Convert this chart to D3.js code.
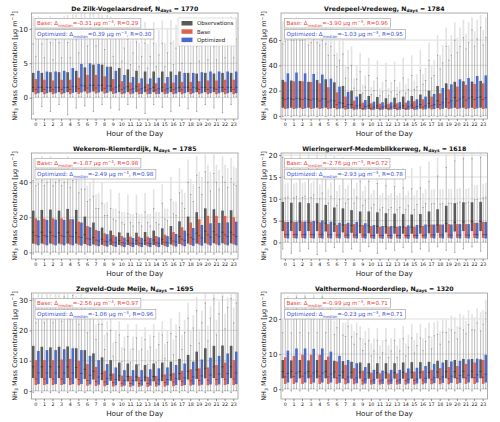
<!DOCTYPE html>
<html>
<head>
<meta charset="utf-8">
<script src="https://cdn.jsdelivr.net/npm/d3@7"></script>
<style>
  body { margin: 0; background: #fff; }
  svg { display: block; font-family: "DejaVu Sans", sans-serif; }
</style>
</head>
<body>
<svg id="chart" width="500" height="422"></svg>
<script>
// categories
var hours = [0, 1, 2, 3, 4, 5, 6, 7, 8, 9, 10, 11, 12, 13, 14, 15, 16, 17, 18, 19, 20, 21, 22, 23];
var seriesNames = ['Observations', 'Base', 'Optimized'];
var stations = ['De Zilk-Vogelaarsdreef', 'Vredepeel-Vredeweg', 'Wekerom-Riemterdijk',
                'Wieringerwerf-Medemblikkerweg', 'Zegveld-Oude Meije', 'Valthermond-Noorderdiep'];
var nDays = [1770, 1784, 1785, 1618, 1695, 1320];
var baseDelta = ['-0.31', '-3.90', '-1.87', '-2.76', '-2.56', '-0.99'];
var baseR = ['0.29', '0.96', '0.98', '0.72', '0.97', '0.71'];
var optDelta = ['0.39', '-1.03', '-2.49', '-2.93', '-1.06', '-0.23'];
var optR = ['0.30', '0.95', '0.98', '0.78', '0.96', '0.71'];
var yTicks = [[0, 5, 10], [0, 20, 40, 60], [0, 20, 40], [0, 5, 10, 15, 20], [0, 10, 20, 30], [0, 10, 20]];

// per hour: [whisker low, q1, median, q3, whisker high, max outlier]
var zilkObs = [[-2.4,0.8,1.5,3.6,7.8,11.8],[-1.3,0.8,1.5,3.6,7.8,11.5],[-2.0,0.8,1.5,3.7,8.0,11.9],[-1.0,0.8,1.5,3.7,8.0,11.6],
  [-2.5,0.8,1.5,3.7,8.0,12.0],[-1.5,0.8,1.6,3.9,8.4,12.1],[-1.2,0.9,1.7,4.4,9.2,12.2],[-2.0,0.9,1.8,4.8,9.6,12.2],
  [-1.0,0.9,1.8,4.8,9.6,12.0],[-1.5,0.9,1.7,4.5,9.2,11.8],[-1.8,0.8,1.7,4.3,8.8,11.6],[-1.0,0.8,1.6,4.1,8.5,11.4],
  [-1.5,0.8,1.6,3.9,8.1,11.2],[-2.3,0.8,1.5,3.8,7.9,11.0],[-1.0,0.8,1.5,3.8,7.9,11.0],[-1.4,0.8,1.5,3.8,7.9,11.2],
  [-2.0,0.8,1.5,3.8,7.9,11.3],[-1.2,0.8,1.5,3.8,7.9,11.5],[-1.6,0.8,1.5,3.6,7.6,11.6],[-2.0,0.8,1.4,3.5,7.4,11.4],
  [-1.0,0.8,1.5,3.6,7.6,11.5],[-1.5,0.8,1.4,3.5,7.4,11.6],[-2.2,0.8,1.5,3.6,7.6,11.7],[-1.0,0.8,1.5,3.6,7.6,11.8]];
var zilkBase = [[0.1,0.5,1.2,2.7,6.0,9.5],[0.1,0.5,1.2,2.6,5.8,9.2],[0.1,0.5,1.15,2.5,5.5,9.0],[0.1,0.5,1.2,2.6,5.8,9.2],
  [0.1,0.5,1.2,2.6,5.8,9.3],[0.1,0.55,1.3,2.9,6.5,10.0],[0.1,0.6,1.4,3.3,7.5,10.8],[0.1,0.6,1.4,3.3,7.5,10.8],
  [0.1,0.6,1.35,3.1,7.0,10.4],[0.1,0.55,1.25,2.7,6.0,9.6],[0.1,0.5,1.2,2.4,5.3,8.8],[0.1,0.5,1.15,2.2,4.8,8.3],
  [0.1,0.5,1.1,2.1,4.5,8.0],[0.1,0.5,1.1,2.0,4.3,7.8],[0.1,0.5,1.1,2.1,4.5,8.0],[0.1,0.5,1.1,2.1,4.5,8.0],
  [0.1,0.5,1.15,2.2,4.8,8.3],[0.1,0.5,1.15,2.3,5.0,8.6],[0.1,0.5,1.15,2.3,5.0,8.6],[0.1,0.5,1.2,2.4,5.3,8.9],
  [0.1,0.5,1.2,2.5,5.5,9.1],[0.1,0.5,1.2,2.5,5.5,9.1],[0.1,0.5,1.2,2.6,5.8,9.3],[0.1,0.5,1.2,2.6,5.8,9.4]];
var zilkOpt = [[0.1,0.65,1.5,3.9,8.7,11.8],[0.1,0.65,1.5,3.8,8.5,11.6],[0.1,0.65,1.5,3.8,8.5,11.6],[0.1,0.65,1.5,3.9,8.7,11.8],
  [0.1,0.7,1.6,4.3,9.7,12.1],[0.1,0.75,1.8,4.9,10.9,12.2],[0.1,0.75,1.8,5.0,11.2,12.2],[0.1,0.75,1.8,4.9,10.9,12.2],
  [0.1,0.7,1.7,4.5,10.2,12.0],[0.1,0.65,1.5,3.9,8.7,11.6],[0.1,0.6,1.4,3.3,7.2,10.5],[0.1,0.6,1.3,3.0,6.5,10.0],
  [0.1,0.55,1.3,2.8,6.0,9.5],[0.1,0.55,1.3,2.8,6.0,9.5],[0.1,0.55,1.3,2.9,6.2,9.8],[0.1,0.6,1.3,3.0,6.5,10.0],
  [0.1,0.6,1.4,3.3,7.2,10.6],[0.1,0.65,1.5,3.6,8.0,11.2],[0.1,0.65,1.5,3.6,8.0,11.2],[0.1,0.65,1.5,3.7,8.2,11.4],
  [0.1,0.65,1.5,3.8,8.5,11.6],[0.1,0.65,1.5,3.8,8.5,11.6],[0.1,0.65,1.5,3.8,8.5,11.6],[0.1,0.65,1.5,3.8,8.5,11.6]];

var vredeObs = [[-0.5,6.5,14,28.5,57,75],[-0.5,6.5,13.5,28,60,76],[-0.5,6.5,13.5,27.7,60,74],[-0.5,6.5,13,27,56,72],
  [-0.5,6.5,13.5,28.5,58,74],[-0.5,6.5,13.5,29,57,72],[-0.5,6.3,12,26.6,48,66],[-0.5,6,10,23.7,49,62],
  [-0.5,5.8,9,20,40,55],[-0.5,5.6,8.5,17.4,35,50],[-0.5,5.5,8,15.8,32,46],[-0.5,5.5,8,15,30,44],
  [-0.5,5.5,7.8,14,28,42],[-0.5,5.5,8,14.5,28,43],[-0.5,5.5,8.2,15.3,30,46],[-0.5,5.6,8.5,15.8,32,48],
  [-0.5,5.8,9,16.9,36,52],[-0.5,6,10,20,44,58],[-0.5,6.2,12,23.7,48,64],[-0.5,6.4,13.5,25.8,55,70],
  [-0.5,6.5,14.5,27,60,74],[-0.5,6.5,15,27.4,62,76],[-0.5,6.5,15,27.2,68,78],[-0.5,6.5,15,27.7,70,80]];
var vredeBase = [[0.5,5.5,13,27,59,70],[0.5,5.5,13,27.4,60,71],[0.5,5.5,13,27.4,60,71],[0.5,5.5,12.5,26.9,58,69],
  [0.5,5.5,12,25.8,56,67],[0.5,5.4,11,22.7,48,60],[0.5,5.2,9,18.7,39,50],[0.5,5,7.5,15.3,30,40],
  [0.5,4.8,6.5,12.1,22,30],[0.5,4.7,6,10.5,18,25],[0.5,4.6,6,10,17,23],[0.5,4.6,6,9.7,16,22],
  [0.5,4.6,6,9.7,16,22],[0.5,4.6,6,10,17,23],[0.5,4.7,6,10.5,18,25],[0.5,4.8,6.5,11.6,21,28],
  [0.5,5,7,13.2,25,33],[0.5,5.1,8,15.3,30,40],[0.5,5.2,9,17.9,37,48],[0.5,5.4,10.5,21,44,56],
  [0.5,5.5,12,23.2,50,62],[0.5,5.5,12.5,24.5,53,65],[0.5,5.5,13,25.3,55,67],[0.5,5.5,13,25.8,56,68]];
var vredeOpt = [[0.5,6,14,33.7,62,76],[0.5,6,14,34.3,63,78],[0.5,6,14,33.7,62,76],[0.5,6,13.5,33.2,61,75],
  [0.5,6,13.5,32.7,60,74],[0.5,5.9,12.5,29.5,55,70],[0.5,5.7,10.5,23.2,44,60],[0.5,5.5,9,19,38,52],
  [0.5,5.3,8,15.3,29,40],[0.5,5.1,7.5,12.6,23,32],[0.5,5,7,11.3,20,28],[0.5,5,7,10.8,19,27],
  [0.5,5,7,10.8,19,27],[0.5,5,7,11,19,27],[0.5,5,7.2,12.1,21,30],[0.5,5.1,7.5,13.2,23,33],
  [0.5,5.3,8,15.3,28,38],[0.5,5.5,9,17.4,32,44],[0.5,5.7,10.5,22.1,42,56],[0.5,5.9,12,25,48,64],
  [0.5,6,13.5,29,55,70],[0.5,6,14,30,58,74],[0.5,6,14.5,31.6,61,76],[0.5,6,14.5,32.1,62,78]];

var wekerObs = [[-1,5,11.5,23.8,41,54],[-1,5,11.5,24.2,41,55],[-1,5,11.5,24.4,42,55],[-1,5,11.2,23.8,41,54],
  [-1,5,11.5,24.8,43,55],[-1,5,11.2,24.2,42,54],[-1,4.8,10,20.4,36,50],[-1,4.5,8.5,17,32,45],
  [-1,4.3,7.5,14.1,28,40],[-1,4.2,7,12.4,25,36],[-1,4.2,6.8,11.4,23,34],[-1,4.2,6.6,11.2,22,33],
  [-1,4.2,6.6,11.2,22,33],[-1,4.2,6.8,11.6,23,34],[-1,4.2,7,12.4,25,36],[-1,4.3,7.5,13.7,28,39],
  [-1,4.5,8,15,30,43],[-1,4.8,9,17.7,34,48],[-1,5,10,20.4,40,53],[-1,5,11,22.9,44,55],
  [-1,5.2,12,25.1,46,56],[-1,5.2,11.8,24.6,45,56],[-1,5.2,11.5,23.8,43,55],[-1,5.1,11.5,24,42,54]];
var wekerBase = [[0.3,4.5,9.5,19.4,38,48],[0.3,4.5,9.5,19.2,38,48],[0.3,4.5,9.5,19.4,38,48],[0.3,4.5,9.5,19.4,38,48],
  [0.3,4.4,9.3,18.9,37,47],[0.3,4.3,8.8,17.5,34,44],[0.3,4.1,7.8,15,29,38],[0.3,3.9,7,12.8,25,33],
  [0.3,3.7,6.3,10.9,21,28],[0.3,3.6,5.8,9.9,19,25],[0.3,3.5,5.5,9.3,17,23],[0.3,3.5,5.3,9,17,22],
  [0.3,3.5,5.3,9,17,22],[0.3,3.5,5.3,9,17,22],[0.3,3.5,5.5,9.3,17,23],[0.3,3.6,5.8,10.1,19,25],
  [0.3,3.8,6.5,11.6,22,29],[0.3,4,7.5,14.3,28,36],[0.3,4.2,8.5,17,33,42],[0.3,4.4,9.5,18.9,37,46],
  [0.3,4.5,10,20.8,40,50],[0.3,4.5,10,20.8,40,50],[0.3,4.5,10,20.8,40,50],[0.3,4.5,10,20,39,49]];
var wekerOpt = [[0.3,4,9,18.3,39,50],[0.3,4,9,18.5,40,50],[0.3,4,9,18.7,40,51],[0.3,4,9,18.5,40,50],
  [0.3,4,9,18.9,41,52],[0.3,3.9,8.5,17,36,47],[0.3,3.7,7.5,14.3,30,40],[0.3,3.5,6.5,12.2,25,34],
  [0.3,3.3,6,10.3,21,29],[0.3,3.1,5.5,9,18,25],[0.3,3,5.2,8.4,16,23],[0.3,3,5,8.2,15,22],
  [0.3,3,5,8.2,15,22],[0.3,3,5,8.2,15,22],[0.3,3,5.2,8.6,16,23],[0.3,3.1,5.5,9.3,18,25],
  [0.3,3.3,6,10.5,21,29],[0.3,3.5,6.8,12.4,25,34],[0.3,3.7,7.5,13.9,29,39],[0.3,3.8,8.2,15.6,33,43],
  [0.3,3.9,8.7,16.6,35,46],[0.3,4,9,16.8,36,47],[0.3,4,9,17.1,37,48],[0.3,4,9,17.5,38,48]];

var wierObs = [[-1.5,2.6,4.8,9.3,19.5,20.4],[-2.5,2.6,4.7,9.1,19,20.4],[-2,2.6,4.7,9.2,19.2,20.4],[-1.5,2.6,4.6,9,18.7,20.4],
  [-2.8,2.6,4.6,9,18.7,20.4],[-2,2.5,4.4,8.6,17.8,20.3],[-1.2,2.4,4.2,8,16.3,20],[-2.2,2.3,4,7.8,15.7,19.5],
  [-1.5,2.2,3.9,7.4,14.8,19],[-2,2.1,3.8,7.1,14,18.5],[-1,2.1,3.8,7.1,14,18],[-2.5,2,3.7,6.9,13.5,17.5],
  [-1.5,2,3.6,6.7,13,17],[-1.8,2,3.5,6.6,12.8,17],[-1.2,2,3.5,6.5,12.5,17],[-2.2,2,3.5,6.4,12.3,17],
  [-1.5,2,3.6,6.5,12.5,17.5],[-2,2.1,3.8,7.1,14,18.5],[-1,2.2,4,7.6,15.2,19.5],[-1.8,2.3,4.3,8.4,17.2,20.2],
  [-2.3,2.5,4.6,9,18.7,20.4],[-1.5,2.6,4.7,9.2,19.2,20.4],[-1,2.6,4.8,9.2,19.2,20.4],[-2,2.6,4.8,9.3,19.5,20.4]];
var wierBase = [[0.1,1,1.8,4.7,10.2,13.5],[0.1,1,1.8,4.7,10.2,13.5],[0.1,1,1.8,4.75,10.3,13.6],[0.1,1,1.8,4.75,10.3,13.6],
  [0.1,1,1.8,4.6,10,13.3],[0.1,1,1.7,4.2,9,12.3],[0.1,1,1.7,4,8.5,11.8],[0.1,1,1.7,4.2,9,12.3],
  [0.1,1,1.7,4.2,9,12.3],[0.1,1,1.7,4,8.5,11.8],[0.1,0.95,1.6,3.75,7.9,11.2],[0.1,0.95,1.6,3.6,7.5,10.8],
  [0.1,0.95,1.6,3.6,7.5,10.8],[0.1,0.95,1.6,3.6,7.5,10.8],[0.1,0.95,1.6,3.6,7.5,10.8],[0.1,0.95,1.6,3.6,7.5,10.8],
  [0.1,0.95,1.6,3.8,8,11.3],[0.1,1,1.7,4.1,8.8,12.1],[0.1,1,1.7,4.1,8.8,12.1],[0.1,1,1.7,4.2,9,12.3],
  [0.1,1,1.7,4.2,9,12.3],[0.1,1,1.7,4.2,9,12.3],[0.1,1,1.8,4.5,9.8,13.1],[0.1,1,1.8,4.7,10.2,13.5]];
var wierOpt = [[0.1,0.9,1.8,4.7,10.4,13.7],[0.1,0.9,1.8,4.75,10.5,13.8],[0.1,0.9,1.8,4.8,10.6,13.9],[0.1,0.9,1.8,4.9,10.9,14.2],
  [0.1,0.9,1.8,5.05,11.3,14.6],[0.1,0.9,1.8,4.75,10.5,13.8],[0.1,0.9,1.7,4.5,9.9,13.2],[0.1,0.9,1.7,4.5,9.9,13.2],
  [0.1,0.9,1.7,4.7,10.4,13.7],[0.1,0.9,1.7,4.4,9.7,13],[0.1,0.85,1.6,4,8.7,12],[0.1,0.85,1.6,3.75,8,11.3],
  [0.1,0.85,1.6,3.75,8,11.3],[0.1,0.85,1.6,3.75,8,11.3],[0.1,0.85,1.6,3.9,8.4,11.7],[0.1,0.85,1.6,4,8.7,12],
  [0.1,0.9,1.7,4.1,8.9,12.2],[0.1,0.9,1.7,4.1,8.9,12.2],[0.1,0.9,1.7,4.1,8.9,12.2],[0.1,0.9,1.7,4.1,8.9,12.2],
  [0.1,0.9,1.7,4.2,9.2,12.5],[0.1,0.9,1.7,4.2,9.2,12.5],[0.1,0.9,1.8,4.5,9.9,13.2],[0.1,0.9,1.8,4.7,10.4,13.7]];

var zegObs = [[-0.5,4.3,8,14.9,30.5,32],[-0.5,4.3,8,14.6,30,32],[-0.5,4.3,8,14.4,29.5,32],[-0.5,4.3,8,14.6,30,32],
  [-0.5,4.3,8,14.7,30.5,32],[-0.5,4.2,7.8,14.1,29,31.5],[-0.5,4,7.2,13.5,27.5,31],[-0.5,3.8,6.5,12.4,25,29],
  [-0.5,3.6,5.8,11.1,22,27],[-0.5,3.4,5.3,10.2,20,25],[-0.5,3.3,5,9.4,18.5,23],[-0.5,3.2,4.8,9.1,18,22],
  [-0.5,3.2,4.7,8.8,17.5,22],[-0.5,3.2,4.6,8.6,17,21],[-0.5,3.2,4.8,9.1,18,22],[-0.5,3.3,5,9.4,18.5,23],
  [-0.5,3.4,5.3,9.7,19,24],[-0.5,3.6,5.8,10.6,21,26],[-0.5,3.8,6.5,11.9,24,29],[-0.5,4,7,13,26.5,31],
  [-0.5,4.2,7.5,14.1,29,32],[-0.5,4.3,8,14.9,30.5,32],[-0.5,4.3,8,15,31,32],[-0.5,4.3,8,14.9,30.5,32]];
var zegBase = [[0.2,2,4,10.2,22.5,27.5],[0.2,2,4,10.2,22.5,27.5],[0.2,2,4,10.2,22.5,27.5],[0.2,2,4,10.4,23,28],
  [0.2,2,4,10.6,23.5,28.5],[0.2,1.9,3.8,10,22,27],[0.2,1.8,3.5,8.9,19.2,24],[0.2,1.7,3.2,8,17,22],
  [0.2,1.6,3,6.7,13.7,18.5],[0.2,1.5,2.8,5.8,11.5,16],[0.2,1.5,2.6,5.1,9.8,14.5],[0.2,1.4,2.5,5,9.5,14],
  [0.2,1.4,2.5,4.7,8.8,13.5],[0.2,1.4,2.5,4.7,8.8,13.5],[0.2,1.5,2.6,5,9.5,14],[0.2,1.5,2.8,5.5,10.8,15.5],
  [0.2,1.6,3,6,12,17],[0.2,1.7,3.2,6.7,13.7,18.5],[0.2,1.8,3.4,7.2,15,20],[0.2,1.8,3.5,7.5,15.8,20.5],
  [0.2,1.9,3.6,7.8,16.5,21.5],[0.2,1.9,3.8,8.6,18.5,23.5],[0.2,2,3.9,9.4,20.5,25.5],[0.2,2,4,10.2,22.5,27.5]];
var zegOpt = [[0.2,2.3,6,13.2,29.5,32],[0.2,2.3,6,13.5,30.3,32],[0.2,2.3,6,13.5,30.3,32],[0.2,2.3,6,13.8,31,32],
  [0.2,2.3,6,14.1,31.5,32],[0.2,2.3,5.8,13.5,30.3,32],[0.2,2.2,5.2,11.6,25.5,29.5],[0.2,2.1,4.6,10.2,22,26],
  [0.2,2,4.2,8.9,18.8,23],[0.2,1.9,3.8,7.8,16,20],[0.2,1.8,3.5,6.9,13.8,18],[0.2,1.8,3.5,6.9,13.8,18],
  [0.2,1.8,3.5,6.9,13.8,18],[0.2,1.8,3.6,7.2,14.5,18.5],[0.2,1.9,3.7,7.5,15.3,19.5],[0.2,1.9,3.8,7.8,16,20],
  [0.2,2,4.1,8.6,18,22],[0.2,2,4.4,9.1,19.3,23.5],[0.2,2.1,4.7,9.7,20.8,25],[0.2,2.1,5,10.4,22.5,26.5],
  [0.2,2.2,5.3,11,24,28],[0.2,2.2,5.6,11.6,25.5,29.5],[0.2,2.3,5.8,12.4,27.5,31],[0.2,2.3,6,13,29,32]];

var valtObs = [[-0.5,3.1,5,8.3,16.1,20],[-0.5,3.1,5,8.2,16,20],[-0.5,3.1,5,8.3,16.1,20.5],[-0.5,3.1,5,8.2,16,20],
  [-0.5,3.1,5,8.3,16.1,20.5],[-0.5,3.1,5,8.3,16.1,20],[-0.5,3.1,4.9,8.1,15.6,19.5],[-0.5,3,4.9,8,15.4,19],
  [-0.5,3,4.8,7.8,14.9,18.5],[-0.5,3,4.8,7.6,14.4,18],[-0.5,3,4.7,7.4,13.9,17.5],[-0.5,3,4.7,7.4,13.9,17.5],
  [-0.5,3,4.7,7.4,13.9,17.5],[-0.5,3,4.7,7.4,13.9,17.5],[-0.5,3,4.8,7.6,14.4,18],[-0.5,3,4.8,7.7,14.6,18.5],
  [-0.5,3,4.8,7.7,14.6,18.5],[-0.5,3,4.8,7.8,14.9,19],[-0.5,3.1,4.9,8.1,15.6,19.5],[-0.5,3.1,5,8.3,16.1,20],
  [-0.5,3.1,5,8.3,16.1,20.5],[-0.5,3.1,5.1,8.6,16.9,21],[-0.5,3.1,5.1,8.6,16.9,21.5],[-0.5,3.1,5.1,8.5,16.6,22]];
var valtBase = [[0.2,1.5,3.5,9.1,20.5,24.5],[0.2,1.5,3.6,9.5,21.5,25.5],[0.2,1.5,3.7,9.8,22.3,26],[0.2,1.5,3.7,9.8,22.3,26],
  [0.2,1.5,3.7,9.8,22.3,26],[0.2,1.5,3.5,9.3,21,25],[0.2,1.5,3.2,7.9,17.5,21.5],[0.2,1.4,2.9,6.9,15,19],
  [0.2,1.4,2.7,6,12.8,16.5],[0.2,1.3,2.5,5.3,11,14.5],[0.2,1.3,2.3,4.7,9.5,13],[0.2,1.3,2.3,4.5,9,12.5],
  [0.2,1.3,2.3,4.5,9,12.5],[0.2,1.3,2.3,4.5,9,12.5],[0.2,1.3,2.4,4.7,9.5,13],[0.2,1.3,2.5,5,10.3,14],
  [0.2,1.4,2.6,5.3,11,14.5],[0.2,1.4,2.7,5.5,11.5,15],[0.2,1.4,2.9,6,12.8,16.5],[0.2,1.4,3,6.3,13.5,17.5],
  [0.2,1.5,3.1,6.6,14.3,18],[0.2,1.5,3.2,7.2,15.8,19.5],[0.2,1.5,3.3,7.6,16.8,20.5],[0.2,1.5,3.4,8.3,18.5,22.5]];
var valtOpt = [[0.2,1.9,4.5,11,24.6,26.5],[0.2,1.9,4.6,11.6,26.2,27],[0.2,1.9,4.6,11.6,26.2,27],[0.2,1.9,4.6,11.5,25.9,27],
  [0.2,1.9,4.6,11.6,26.2,27],[0.2,1.9,4.3,10.7,23.9,26],[0.2,1.8,3.9,9.5,20.9,24],[0.2,1.7,3.5,8.3,17.9,21.5],
  [0.2,1.7,3.2,7.4,15.7,19],[0.2,1.6,2.9,6.3,12.9,16.5],[0.2,1.5,2.7,5.5,10.9,14.5],[0.2,1.5,2.6,5.3,10.4,14],
  [0.2,1.5,2.6,5.5,10.9,14.5],[0.2,1.5,2.7,5.5,10.9,14.5],[0.2,1.6,2.8,5.9,11.9,15.5],[0.2,1.6,2.9,6.1,12.4,16],
  [0.2,1.7,3.1,6.6,13.6,17.5],[0.2,1.7,3.3,7.2,15.2,19],[0.2,1.8,3.5,7.6,16.2,20],[0.2,1.8,3.7,7.9,16.9,21],
  [0.2,1.8,3.9,8.1,17.4,21.5],[0.2,1.9,4,8.5,18.4,22.5],[0.2,1.9,4.1,8.7,18.9,23],[0.2,1.9,4.3,9.8,21.7,25.5]];

// y limits of each panel (matplotlib auto limits incl. margin)
var yDomains = [[-3.1, 12.3], [-2.4, 81.4], [-3.8, 56.7], [-3.8, 20.5], [-2.6, 32.3], [-2.8, 27.4]];

var panels = [
  [zilkObs, zilkBase, zilkOpt], [vredeObs, vredeBase, vredeOpt], [wekerObs, wekerBase, wekerOpt],
  [wierObs, wierBase, wierOpt], [zegObs, zegBase, zegOpt], [valtObs, valtBase, valtOpt]
];

var colors = ['#5a5a5a', '#e2614c', '#4b6bcb'];
var medianColors = ['#2e2e2e', '#8f3224', '#263f86'];
var plotW = 206.5, plotH = 106,
    colLeft = [31.5, 281], rowTop = [13, 153, 293];

var svg = d3.select('#chart');

// text with sub / superscripts: parts = [[text, 'sub'|'sup'|undefined], ...]
function rich(t, parts, fs) {
  var shift = 0;
  parts.forEach(function(pt) {
    var target = pt[1] === 'sub' ? fs * 0.28 : (pt[1] === 'sup' ? -fs * 0.38 : 0);
    t.append('tspan')
      .attr('dy', target - shift)
      .attr('font-size', pt[1] ? fs * 0.7 : fs)
      .text(pt[0]);
    shift = target;
  });
  return t;
}

function drawPanel(i) {
  var col = i % 2, row = Math.floor(i / 2);
  var left = colLeft[col], top = rowTop[row];
  var g = svg.append('g').attr('transform', 'translate(' + left + ',' + top + ')');

  var x = d3.scaleBand().domain(hours).range([0, plotW]);
  var bw = x.bandwidth();
  var sub = d3.scaleBand().domain(seriesNames).range([0.05 * bw, 0.95 * bw]);
  var sw = sub.bandwidth();
  var y = d3.scaleLinear().domain(yDomains[i]).range([plotH, 0]);

  // grid
  g.selectAll('.grid').data(yTicks[i]).enter().append('line')
    .attr('x1', 0).attr('x2', plotW)
    .attr('y1', function(d) { return y(d); })
    .attr('y2', function(d) { return y(d); })
    .attr('stroke', '#cfcfcf').attr('stroke-width', 0.7);

  var clip = 'clip' + i;
  g.append('clipPath').attr('id', clip).append('rect').attr('width', plotW).attr('height', plotH);
  var body = g.append('g').attr('clip-path', 'url(#' + clip + ')');

  panels[i].forEach(function(data, s) {
    var sg = body.append('g');
    var cx = function(d, h) { return x(hours[h]) + sub(seriesNames[s]) + sw / 2; };

    // outliers, drawn as a faint band above the whisker
    sg.selectAll('.flier').data(data).enter().append('rect')
      .attr('x', function(d, h) { return cx(d, h) - 0.8; })
      .attr('width', 1.6)
      .attr('y', function(d) { return y(d[5]); })
      .attr('height', function(d) { return Math.max(0, y(d[4]) - y(d[5])); })
      .attr('fill', '#e3e3e3');

    // whiskers
    sg.selectAll('.wh').data(data).enter().append('line')
      .attr('x1', cx).attr('x2', cx)
      .attr('y1', function(d) { return y(d[4]); })
      .attr('y2', function(d) { return y(d[0]); })
      .attr('stroke', '#8e8e8e').attr('stroke-width', 0.6);
    [0, 4].forEach(function(k) {
      sg.selectAll('.cap' + k).data(data).enter().append('line')
        .attr('x1', function(d, h) { return cx(d, h) - sw * 0.25; })
        .attr('x2', function(d, h) { return cx(d, h) + sw * 0.25; })
        .attr('y1', function(d) { return y(d[k]); })
        .attr('y2', function(d) { return y(d[k]); })
        .attr('stroke', '#6e6e6e').attr('stroke-width', 0.6);
    });

    // boxes
    sg.selectAll('.box').data(data).enter().append('rect')
      .attr('x', function(d, h) { return x(hours[h]) + sub(seriesNames[s]); })
      .attr('width', sw)
      .attr('y', function(d) { return y(d[3]); })
      .attr('height', function(d) { return y(d[1]) - y(d[3]); })
      .attr('fill', colors[s]);

    sg.selectAll('.med').data(data).enter().append('line')
      .attr('x1', function(d, h) { return x(hours[h]) + sub(seriesNames[s]); })
      .attr('x2', function(d, h) { return x(hours[h]) + sub(seriesNames[s]) + sw; })
      .attr('y1', function(d) { return y(d[2]); })
      .attr('y2', function(d) { return y(d[2]); })
      .attr('stroke', medianColors[s]).attr('stroke-width', 0.7);
  });

  // frame
  g.append('rect').attr('width', plotW).attr('height', plotH)
    .attr('fill', 'none').attr('stroke', '#9a9a9a').attr('stroke-width', 0.8);

  // axes
  var xa = g.append('g').attr('transform', 'translate(0,' + plotH + ')')
    .call(d3.axisBottom(x).tickSize(2).tickPadding(1.5));
  xa.selectAll('text').attr('font-size', 4.8).attr('fill', '#222');
  var ya = g.append('g')
    .call(d3.axisLeft(y).tickValues(yTicks[i]).tickSize(2).tickPadding(1.5));
  ya.selectAll('text').attr('font-size', 7).attr('fill', '#222');
  [xa, ya].forEach(function(a) {
    a.select('.domain').remove();
    a.selectAll('line').attr('stroke', '#444').attr('stroke-width', 0.6);
    a.attr('font-family', null);
  });

  // title
  rich(g.append('text').attr('x', plotW / 2).attr('y', -2.5)
    .attr('text-anchor', 'middle').attr('font-weight', 'bold').attr('fill', '#111'),
    [[stations[i] + ', N'], ['days', 'sub'], [' = ' + nDays[i]]], 6.2);

  // axis labels
  g.append('text').attr('x', plotW / 2).attr('y', plotH + 17)
    .attr('text-anchor', 'middle').attr('font-size', 7.2).attr('fill', '#222')
    .text('Hour of the Day');
  rich(g.append('text')
    .attr('transform', 'translate(' + (-15) + ',' + plotH / 2 + ') rotate(-90)')
    .attr('text-anchor', 'middle').attr('fill', '#222'),
    [['NH'], ['3', 'sub'], [' Mass Concentration [\u03bcg m'], ['\u22123', 'sup'], [']']], 6.5);

  // statistic boxes
  var stats = [['Base: \u0394', baseDelta[i], baseR[i], '#e8413a'],
               ['Optimized: \u0394', optDelta[i], optR[i], '#3c4fd6']];
  stats.forEach(function(st, k) {
    var by = 5.5 + k * 11;
    var bg = g.append('g');
    var box = bg.append('rect').attr('x', 3.5).attr('y', by).attr('height', 9.5)
      .attr('fill', '#fff').attr('stroke', '#a8a8a8').attr('stroke-width', 0.7);
    var t = rich(bg.append('text').attr('x', 5.5).attr('y', by + 6.8).attr('fill', st[3]),
      [[st[0]], ['median', 'sub'], ['=' + st[1] + ' \u03bcg m'], ['\u22123', 'sup'], [', R=' + st[2]]], 5.6);
    box.attr('width', t.node().getBBox().width + 4);
  });

  // legend only in first panel
  if (i === 0) {
    var lg = g.append('g').attr('transform', 'translate(' + (plotW - 60) + ',5)');
    lg.append('rect').attr('width', 58).attr('height', 28)
      .attr('fill', '#fff').attr('fill-opacity', 0.9).attr('stroke', '#cccccc').attr('stroke-width', 0.6);
    seriesNames.forEach(function(nm, k) {
      lg.append('rect').attr('x', 3.5).attr('y', 3 + k * 8.3).attr('width', 11).attr('height', 4.5)
        .attr('fill', colors[k]);
      lg.append('text').attr('x', 19).attr('y', 7.3 + k * 8.3)
        .attr('font-size', 5.5).attr('fill', '#222').text(nm);
    });
  }
}

panels.forEach(function(p, i) { drawPanel(i); });
</script>
</body>
</html>
